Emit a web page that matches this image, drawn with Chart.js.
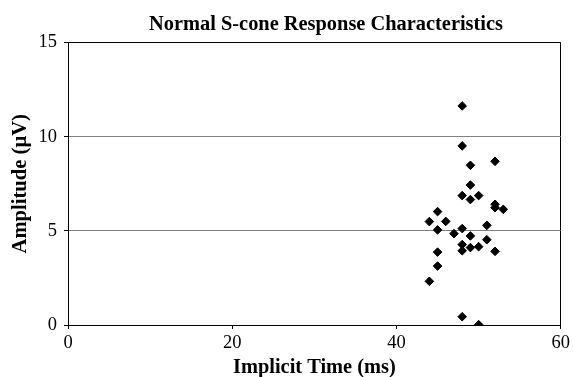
<!DOCTYPE html>
<html>
<head>
<meta charset="utf-8">
<script src="https://cdn.jsdelivr.net/npm/chart.js@4/dist/chart.umd.min.js"></script>
<style>
html,body{margin:0;padding:0;background:#fff;}
#wrap{width:573px;height:377px;position:relative;}
</style>
</head>
<body>
<div id="wrap"><canvas id="c"></canvas></div>
<script>
// Data
const implicitTimeMs = [44,44, 45,45,45,45, 46, 47, 48,48,48,48,48,48,48, 49,49,49,49,49, 50,50,50, 51,51, 52,52,52,52, 53];
const amplitudeUV    = [5.49,2.32, 6.02,5.05,3.87,3.13, 5.50, 4.85, 11.63,9.51,6.87,5.12,4.27,3.94,0.44, 8.48,7.43,6.66,4.73,4.11, 6.87,4.16,0.02, 5.29,4.53, 8.69,6.41,6.23,3.91, 6.14];
const xTicks = [0,20,40,60];
const yTicks = [0,5,10,15];
const chartTitle = 'Normal S-cone Response Characteristics';
const xTitle = 'Implicit Time (ms)';
const yTitle = 'Amplitude (\u00B5V)';

const points = implicitTimeMs.map((x,i)=>({x:x, y:amplitudeUV[i]}));

const titleShift = {
  id:'titleShift',
  afterLayout(chart){
    const t = chart.titleBlock;
    if(t){ t.left = 91; t.right = 561; t.width = 470; }
  }
};

new Chart(document.getElementById('c'), {
  type:'scatter',
  data:{datasets:[{
    data:points,
    pointStyle:'rectRot',
    pointRadius:4.3,
    pointBorderWidth:1,
    backgroundColor:'#000',
    borderColor:'#000'
  }]},
  options:{
    responsive:true,
    maintainAspectRatio:false,
    animation:false,
    devicePixelRatio:1,
    layout:{padding:{top:0,right:11,bottom:0,left:0}},
    plugins:{
      legend:{display:false},
      tooltip:{enabled:false},
      title:{
        display:true, text:chartTitle, fullSize:false,
        color:'#000',
        font:{family:'"Liberation Serif"', size:20.4, weight:'bold'},
        padding:{top:12,bottom:6}
      }
    },
    scales:{
      x:{
        type:'linear', min:0, max:60,
        afterBuildTicks(s){ s.ticks = xTicks.map(v=>({value:v})); },
        afterFit(s){ s.height = 52; },
        border:{display:true,color:'#000',width:1},
        grid:{
          color:(c)=> (c.tick && c.tick.value===60) ? '#000' : 'rgba(0,0,0,0)',
          tickColor:'#000', tickLength:4, drawOnChartArea:true
        },
        ticks:{color:'#000', font:{family:'"Liberation Serif"', size:18.5}, padding:3, maxRotation:0},
        title:{display:true, text:xTitle, color:'#000',
          font:{family:'"Liberation Serif"', size:20.4, weight:'bold', lineHeight:0.9}, padding:{top:0,bottom:0}}
      },
      y:{
        type:'linear', min:0, max:15,
        afterBuildTicks(s){ s.ticks = yTicks.map(v=>({value:v})); },
        afterFit(s){ s.width = 68; },
        border:{display:true,color:'#000',width:1},
        grid:{
          color:(c)=> (c.tick && (c.tick.value===15 || c.tick.value===0)) ? '#000' : '#808080',
          tickColor:'#000', tickLength:4
        },
        ticks:{color:'#000', font:{family:'"Liberation Serif"', size:18.5}, padding:7},
        title:{display:true, text:yTitle, color:'#000',
          font:{family:'"Liberation Serif"', size:20.6, weight:'bold'}, padding:{top:8,bottom:0}}
      }
    }
  },
  plugins:[titleShift]
});
</script>
</body>
</html>
